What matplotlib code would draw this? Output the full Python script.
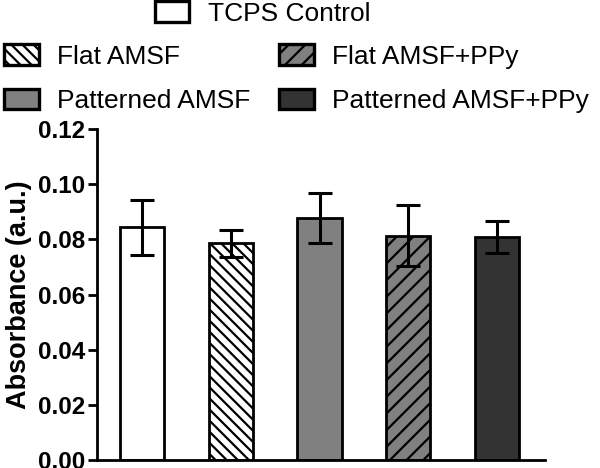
import matplotlib
matplotlib.use("Agg")
import matplotlib.pyplot as plt
from matplotlib.patches import Patch

plt.rcParams['font.family'] = ['Liberation Sans', 'DejaVu Sans']
plt.rcParams['hatch.linewidth'] = 1.6

# donnees
groupes = ["TCPS Control", "Flat AMSF", "Patterned AMSF", "Flat AMSF+PPy", "Patterned AMSF+PPy"]
absorbance = [0.0843, 0.0785, 0.0878, 0.0813, 0.0808]
erreur = [0.0101, 0.0050, 0.0090, 0.0110, 0.0058]
couleurs = ["white", "white", "#808080", "#808080", "#333333"]
hachures = ["", "\\\\\\", "", "//", ""]
yticks = [0.00, 0.02, 0.04, 0.06, 0.08, 0.10, 0.12]

fig = plt.figure(figsize=(6, 4.68), dpi=100)
ax = fig.add_axes([0.1617, 0.017, 0.908 - 0.1617, 0.7074])

x = list(range(len(groupes)))
barres = ax.bar(x, absorbance, width=0.5, color=couleurs, edgecolor="black",
                linewidth=2, hatch=hachures, zorder=2)
ax.errorbar(x, absorbance, yerr=erreur, fmt="none", ecolor="black",
            elinewidth=2.2, capsize=8.5, capthick=2.2, zorder=3)

ax.set_xlim(-0.51, 4.54)
ax.set_ylim(0, 0.12)
ax.set_yticks(yticks)
ax.set_yticklabels(["%.2f" % v for v in yticks], fontweight="bold", fontsize=17.5)
ax.set_xticks([])
ax.tick_params(axis="y", direction="out", length=6.5, width=2, pad=2)
ax.set_ylabel("Absorbance (a.u.)", fontweight="bold", fontsize=19.5, labelpad=4.5)
for s in ["top", "right"]:
    ax.spines[s].set_visible(False)
ax.spines["left"].set_linewidth(2)
ax.spines["bottom"].set_linewidth(2)

# legende : TCPS seul en haut, puis deux colonnes
poignees = [Patch(facecolor=couleurs[i], edgecolor="black", linewidth=2.4,
                  hatch=hachures[i], label=groupes[i]) for i in range(5)]
reglages = dict(frameon=False, fontsize=19, handlelength=1.3, handleheight=0.8,
                handletextpad=0.7, borderpad=0, borderaxespad=0)
fig.legend(handles=[poignees[0]], loc="upper left", bbox_to_anchor=(0.258, 0.997), **reglages)
fig.legend(handles=[poignees[1], poignees[2], poignees[3], poignees[4]], ncol=2,
           loc="upper left", bbox_to_anchor=(0.007, 0.905), columnspacing=1.1,
           labelspacing=0.75, **reglages)

fig.savefig("out.png", dpi=100)
